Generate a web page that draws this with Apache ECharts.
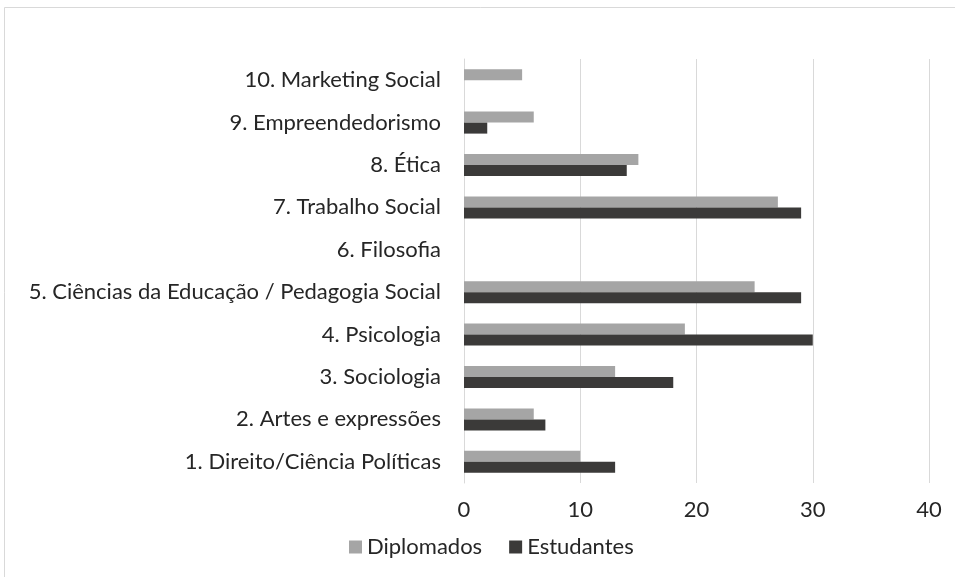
<!DOCTYPE html>
<html>
<head>
<meta charset="utf-8">
<script src="https://cdn.jsdelivr.net/npm/echarts@6/dist/echarts.min.js"></script>
<style>html,body{margin:0;padding:0;background:#fff;}#c{width:955px;height:577px;}</style>
</head>
<body>
<div id="c"></div>
<script>
const categories = [
  "1. Direito/Ciência Políticas",
  "2. Artes e expressões",
  "3. Sociologia",
  "4. Psicologia",
  "5. Ciências da Educação / Pedagogia Social",
  "6. Filosofia",
  "7. Trabalho Social",
  "8. Ética",
  "9. Empreendedorismo",
  "10. Marketing Social"
];
const diplomados = [10, 6, 13, 19, 25, 0, 27, 15, 6, 5];
const estudantes = [13, 7, 18, 30, 29, 0, 29, 14, 2, 0];
const xTicks = [0, 10, 20, 30, 40];

const chart = echarts.init(document.getElementById('c'), null, {renderer: 'canvas'});
const font = 'Lato, "Open Sans", sans-serif';
chart.setOption({
  animation: false,
  backgroundColor: '#fff',
  graphic: [{
    type: 'rect', shape: {x: 4.5, y: 7.5, width: 1000, height: 700},
    style: {fill: 'none', stroke: '#D9D9D9', lineWidth: 1}, silent: true
  }],
  legend: {
    data: ['Diplomados', 'Estudantes'],
    top: 536, left: 349, itemWidth: 13, itemHeight: 13, itemGap: 27,
    icon: 'rect', padding: 0,
    textStyle: {fontFamily: font, fontSize: 22, color: '#262626'}
  },
  grid: {left: 464, right: 26, top: 59, bottom: 94, containLabel: false},
  xAxis: {
    type: 'value', min: xTicks[0], max: xTicks[xTicks.length - 1], interval: 10,
    axisLine: {show: false}, axisTick: {show: false},
    splitLine: {lineStyle: {color: '#D9D9D9', width: 1}},
    axisLabel: {fontFamily: font, fontSize: 22, color: '#262626', margin: 16}
  },
  yAxis: {
    type: 'category', data: categories,
    axisLine: {show: true, lineStyle: {color: '#D9D9D9', width: 1}},
    axisTick: {show: false},
    axisLabel: {fontFamily: font, fontSize: 22, color: '#262626', margin: 23}
  },
  series: [
    {name: 'Diplomados', type: 'bar', data: diplomados, barWidth: 11, barGap: '0%',
      itemStyle: {color: '#A5A5A5'}},
    {name: 'Estudantes', type: 'bar', data: estudantes, barWidth: 11, barGap: '0%',
      itemStyle: {color: '#3B3A39'}}
  ]
});
</script>
</body>
</html>
